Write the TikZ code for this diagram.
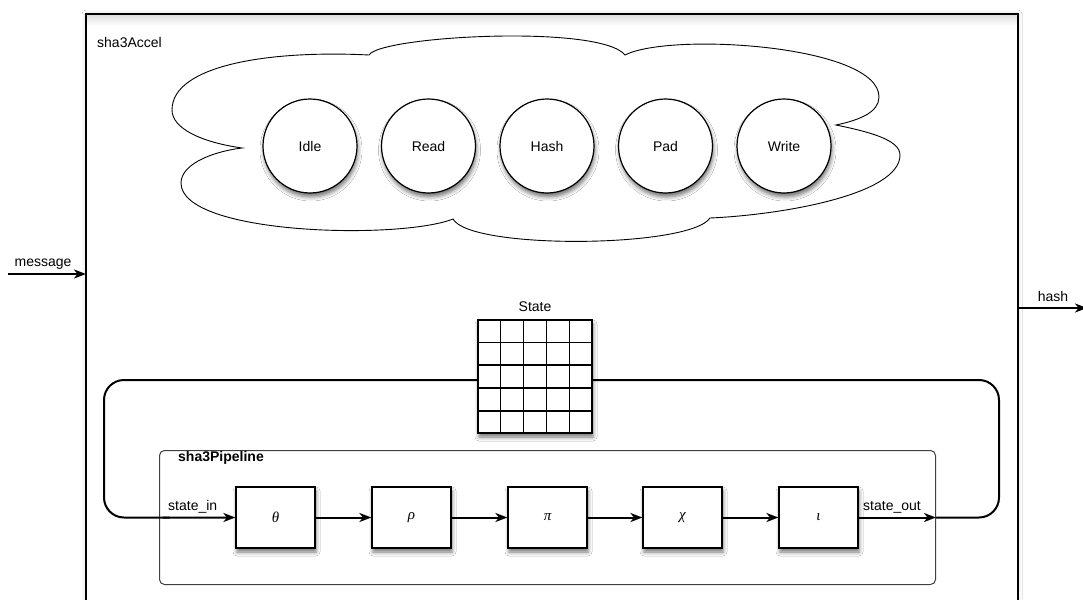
\documentclass[tikz,border=0pt]{standalone}
\usepackage{fontspec}
\setmainfont{Liberation Sans}
\newfontfamily\greekfont{Liberation Serif}
\usetikzlibrary{arrows.meta,shadows.blur,calc}
\begin{document}
\begin{tikzpicture}[x=1pt,y=-1pt,
  lbl/.style={font=\fontsize{14}{16}\selectfont, inner sep=0pt},
  softshadow/.style={blur shadow={shadow xshift=1pt, shadow yshift=-4pt, shadow blur radius=4pt, shadow opacity=55}},
  statecirc/.style={circle, draw, line width=1.2pt, fill=white, minimum size=94pt, inner sep=0pt, font=\fontsize{14}{16}\selectfont, softshadow},
  stagebox/.style={rectangle, draw, line width=1.2pt, fill=white, minimum width=79pt, minimum height=61pt, inner sep=0pt, font=\greekfont\itshape\fontsize{15}{17}\selectfont, softshadow},
  tip/.style={-{Stealth[length=12pt,width=9pt,inset=3.5pt]}},
  flow/.style={line width=2pt, tip},
  loopline/.style={line width=2pt, rounded corners=20pt},
]
\clip (0,0) rectangle (1083,599);
\fill[white] (0,0) rectangle (1083,599);

% outer module box
\node[fill=white, minimum width=932pt, minimum height=620pt, inner sep=0pt, outer sep=0pt, anchor=north west,
  blur shadow={shadow xshift=0pt, shadow yshift=0pt, shadow blur radius=4pt, shadow opacity=18}] (accel) at (86,14) {};
\shade[top color=black!13, bottom color=white] (accel.north west) rectangle ($(accel.north east)+(0,12)$);
\draw[line width=1.1pt] (accel.north west) rectangle (accel.south east);
\node[lbl, anchor=base west] (accelname) at (97,48) {sha3Accel};

% control FSM cloud
\draw[line width=0.9pt, fill=white]
  (242,148) .. controls (200,142) and (172,128) .. (172,110)
  .. controls (172,65) and (270,50) .. (369,55)
  .. controls (380,36) and (600,24) .. (625,55)
  .. controls (670,32) and (879,45) .. (879,97)
  .. controls (879,112) and (860,120) .. (836,125)
  .. controls (870,132) and (900,140) .. (900,155)
  .. controls (900,195) and (780,215) .. (710,218)
  .. controls (690,248) and (470,250) .. (453,219)
  .. controls (400,240) and (181,235) .. (181,183)
  .. controls (181,165) and (210,152) .. (242,148) -- cycle;

\node[statecirc] (idle)  at (310,146)   {Idle};
\node[statecirc] (read)  at (428.5,146) {Read};
\node[statecirc] (hash)  at (547,146)   {Hash};
\node[statecirc] (pad)   at (665.5,146) {Pad};
\node[statecirc] (write) at (784,146)   {Write};

% ports
\coordinate (msgstart) at (8,274);
\draw[flow] (msgstart) -- (msgstart -| accel.west);
\node[lbl, anchor=base] (msglbl) at (43,266) {message};
\coordinate (hashend) at (1087,308);
\draw[flow] (hashend -| accel.east) -- (hashend);
\node[lbl, anchor=base] (hashlbl) at (1053,301) {hash};

% state grid
\node[draw, line width=1.5pt, fill=white, minimum width=114pt, minimum height=113pt, inner sep=0pt, softshadow] (grid) at (535,376.5) {};
\foreach \i in {1,...,4}{
  \draw[line width=1.3pt] ($(grid.north west)!\i/5!(grid.north east)$) -- ($(grid.south west)!\i/5!(grid.south east)$);
  \draw[line width=1.3pt] ($(grid.north west)!\i/5!(grid.south west)$) -- ($(grid.north east)!\i/5!(grid.south east)$);
}
\node[lbl, anchor=base] (statelbl) at ($(grid.north)+(0,-8)$) {State};

% pipeline
\node[draw=black!75, line width=1pt, rounded corners=5pt, minimum width=776pt, minimum height=134pt, inner sep=0pt, anchor=north west] (pipe) at (159,450) {};
\node[lbl, anchor=base west, font=\fontsize{14}{16}\selectfont\bfseries] (pipelbl) at (178,461) {sha3Pipeline};

\node[stagebox] (theta) at (275.5,517.5) {θ};
\node[stagebox] (rho)   at (411.5,517.5) {ρ};
\node[stagebox] (pi)    at (547.5,517.5) {π};
\node[stagebox] (chi)   at (682.5,517.5) {χ};
\node[stagebox] (iota)  at (818.5,517.5) {ι};

\draw[flow] (theta) -- (rho);
\draw[flow] (rho) -- (pi);
\draw[flow] (pi) -- (chi);
\draw[flow] (chi) -- (iota);

% feedback loop
\coordinate (loopL) at ($(grid.west)+(0,3.5)$);
\coordinate (loopR) at ($(grid.east)+(0,3.5)$);
\coordinate (cornerL) at (104,517.5);
\coordinate (cornerR) at (999,517.5);
\draw[loopline] (loopL) -| (cornerL) -- ($(cornerL)!0.5!(theta.west)$);
\draw[flow] ($(cornerL)!0.45!(theta.west)$) -- (theta.west);
\draw[flow] (iota.east) -- (iota.east -| pipe.east);
\draw[loopline] (iota.east -| pipe.east) -- (cornerR) |- (loopR);

\node[lbl, anchor=base west] (inlbl) at (168,510) {state\_in};
\node[lbl, anchor=base west] (outlbl) at (863,510) {state\_out};
\end{tikzpicture}
\end{document}
